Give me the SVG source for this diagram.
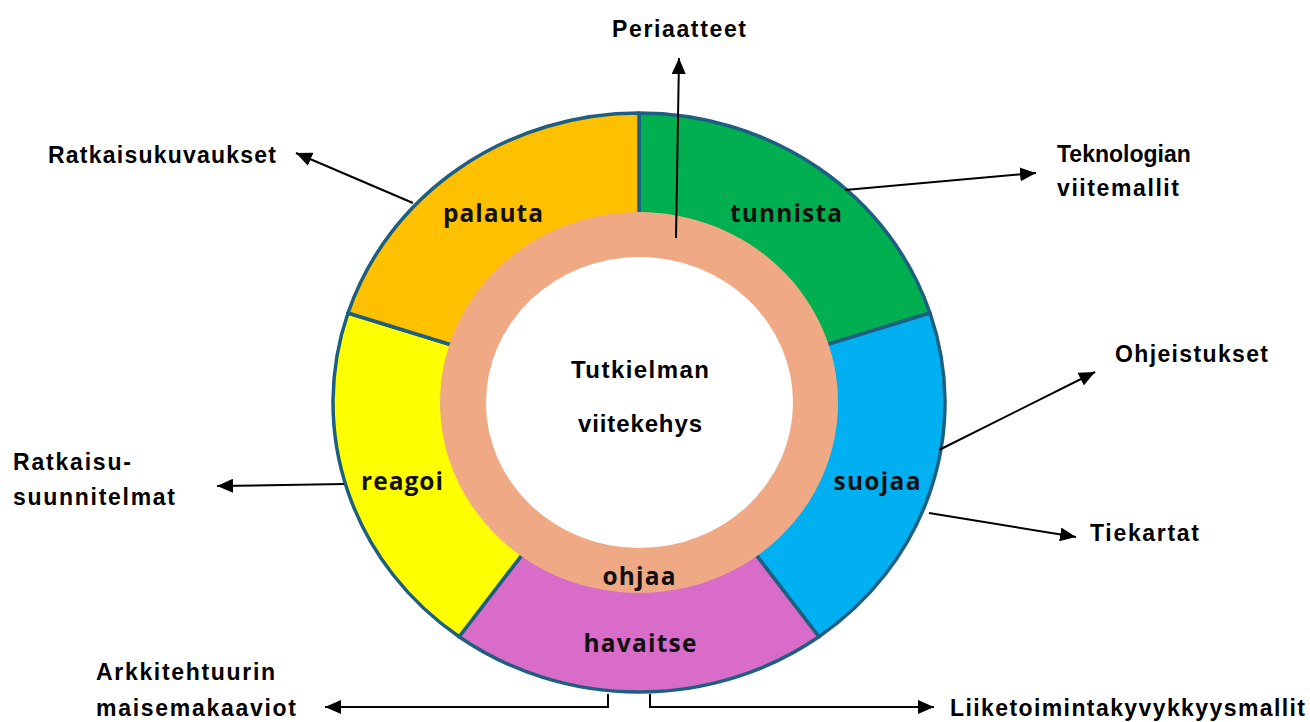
<svg xmlns="http://www.w3.org/2000/svg" width="1310" height="722" viewBox="0 0 1310 722">
<defs>
<marker id="ah" markerUnits="userSpaceOnUse" markerWidth="18" markerHeight="14" refX="16" refY="7" orient="auto">
<path d="M0,0 L16,7 L0,14 Z" fill="#000"/>
</marker>
<style>
.seg{stroke:#1d5f80;stroke-width:3.5;stroke-linejoin:round}
.lbl{font-family:"Open Sans","Noto Sans",sans-serif;font-weight:bold;font-size:24.5px;fill:#111;text-anchor:middle}
.out{font-family:"Liberation Sans",Arial,sans-serif;font-weight:bold;font-size:23px;fill:#000}
.ctr{font-family:"Liberation Sans",Arial,sans-serif;font-weight:bold;font-size:24px;fill:#000;text-anchor:middle}
.con{stroke:#000;stroke-width:2;fill:none}
</style>
</defs>
<rect width="1310" height="722" fill="#fff"/>
<g id="ring">
<g id="seg-tunnista"><path class="seg" fill="#00B050" d="M639,402.5 L639,113 A306,289.5 0 0 1 930,313 Z"/></g>
<g id="seg-suojaa"><path class="seg" fill="#00B0F0" d="M639,402.5 L930,313 A306,289.5 0 0 1 818.9,636.7 Z"/></g>
<g id="seg-havaitse"><path class="seg" fill="#D86CC8" d="M639,402.5 L818.9,636.7 A306,289.5 0 0 1 459.1,636.7 Z"/></g>
<g id="seg-reagoi"><path class="seg" fill="#FFFF00" d="M639,402.5 L459.1,636.7 A306,289.5 0 0 1 348,313 Z"/></g>
<g id="seg-palauta"><path class="seg" fill="#FFC000" d="M639,402.5 L348,313 A306,289.5 0 0 1 639,113 Z"/></g>
<g id="ohjaa"><ellipse cx="639" cy="402.5" rx="199" ry="190.5" fill="#F0A985"/></g>
<g id="center"><ellipse cx="639.5" cy="402.5" rx="153.5" ry="145.5" fill="#fff"/>
<text class="ctr" x="640" y="378" textLength="138">Tutkielman</text>
<text class="ctr" x="640" y="432" textLength="124">viitekehys</text></g>
<text class="lbl" x="493" y="222" textLength="100">palauta</text>
<text class="lbl" x="786" y="222" textLength="112">tunnista</text>
<text class="lbl" x="877" y="490" textLength="87">suojaa</text>
<text class="lbl" x="402" y="490" textLength="82">reagoi</text>
<text class="lbl" x="639" y="585" textLength="73">ohjaa</text>
<text class="lbl" x="640" y="652" textLength="113">havaitse</text>
</g>
<g id="connectors">
<line class="con" x1="676" y1="238" x2="679" y2="58" marker-end="url(#ah)"/>
<line class="con" x1="413" y1="203" x2="296" y2="153" marker-end="url(#ah)"/>
<line class="con" x1="845" y1="190" x2="1036" y2="173" marker-end="url(#ah)"/>
<line class="con" x1="939" y1="450" x2="1095" y2="372" marker-end="url(#ah)"/>
<line class="con" x1="929" y1="513" x2="1076" y2="537" marker-end="url(#ah)"/>
<line class="con" x1="344" y1="484" x2="217" y2="486" marker-end="url(#ah)"/>
<polyline class="con" points="608,694 608,707 325,707" marker-end="url(#ah)"/>
<polyline class="con" points="650,694 650,707 934,707" marker-end="url(#ah)"/>
</g>
<g id="labels">
<g id="n-periaatteet"><text class="out" x="612" y="37" textLength="134">Periaatteet</text></g>
<g id="n-ratkaisukuvaukset"><text class="out" x="48" y="163" textLength="228">Ratkaisukuvaukset</text></g>
<g id="n-teknologian"><text class="out" x="1057" y="162">Teknologian</text><text class="out" x="1057" y="196" textLength="122">viitemallit</text></g>
<g id="n-ohjeistukset"><text class="out" x="1115" y="362" textLength="153">Ohjeistukset</text></g>
<g id="n-tiekartat"><text class="out" x="1090" y="541" textLength="109">Tiekartat</text></g>
<g id="n-ratkaisu"><text class="out" x="13" y="470" textLength="118">Ratkaisu-</text><text class="out" x="13" y="505" textLength="162">suunnitelmat</text></g>
<g id="n-arkkitehtuurin"><text class="out" x="96" y="680" textLength="179">Arkkitehtuurin</text><text class="out" x="96" y="716" textLength="200">maisemakaaviot</text></g>
<g id="n-liiketoiminta"><text class="out" x="950" y="716" textLength="355">Liiketoimintakyvykkyysmallit</text></g>
</g>
</svg>
